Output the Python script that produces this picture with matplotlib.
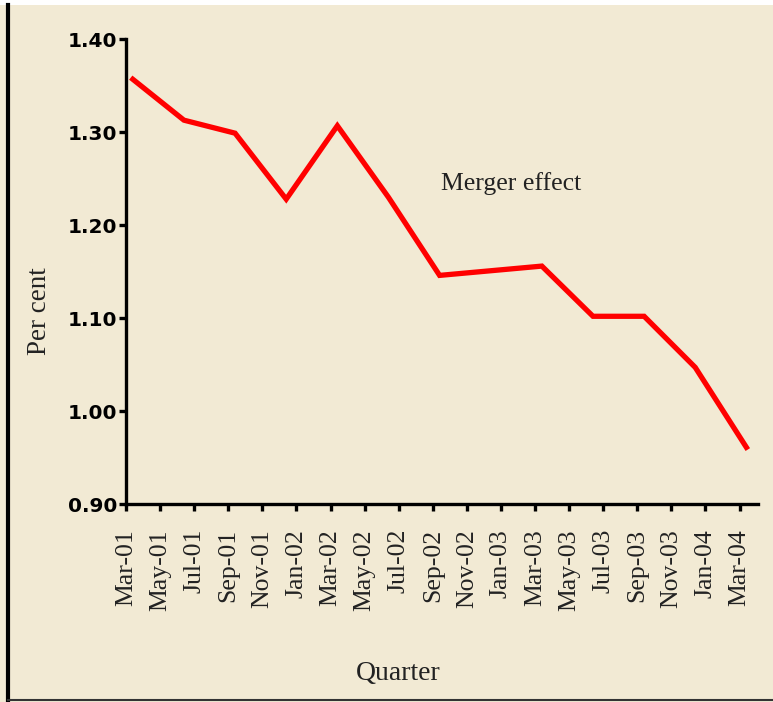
import numpy as np
import matplotlib.pyplot as plt
from matplotlib.lines import Line2D
from matplotlib.patches import Rectangle

# =========================
# data
# =========================
tick_labels = ["Mar-01", "May-01", "Jul-01", "Sep-01", "Nov-01", "Jan-02", "Mar-02",
               "May-02", "Jul-02", "Sep-02", "Nov-02", "Jan-03", "Mar-03", "May-03",
               "Jul-03", "Sep-03", "Nov-03", "Jan-04", "Mar-04"]
# months since Mar-01 (ticks every 2 months)
tick_months = np.arange(0, 37, 2)

# quarterly observations (months since Mar-01)
quarter_months = [0.4, 3.4, 6.4, 9.4, 12.4, 15.4, 18.4, 21.4, 24.4, 27.4, 30.4, 33.4, 36.4]
values = [1.357, 1.313, 1.299, 1.228, 1.307, 1.230, 1.146, 1.151, 1.156, 1.102, 1.102, 1.047, 0.961]

BG = "#F2EAD4"
RED = "#FF0000"

fig = plt.figure(figsize=(7.73, 7.02), dpi=100, facecolor=BG)
ax = fig.add_axes([0.163, 0.282, 0.818, 0.662])
ax.set_facecolor(BG)

ax.plot(quarter_months, values, color=RED, linewidth=3.8, solid_joinstyle="miter")

ax.set_xlim(0, 37.1)
ax.set_ylim(0.90, 1.40)

ax.set_yticks([0.90, 1.00, 1.10, 1.20, 1.30, 1.40])
ax.set_yticklabels(["0.90", "1.00", "1.10", "1.20", "1.30", "1.40"],
                   fontsize=14.5, fontweight="bold", family="DejaVu Sans")
ax.set_xticks(tick_months)
ax.set_xticklabels(tick_labels, rotation=90, fontsize=18.5, family="Liberation Serif",
                   color="#222222")

for s in ["top", "right"]:
    ax.spines[s].set_visible(False)
for s in ["left", "bottom"]:
    ax.spines[s].set_linewidth(2.4)
ax.tick_params(axis="both", direction="out", length=5, width=2.4)
ax.tick_params(axis="y", pad=1)
ax.tick_params(axis="x", pad=13)

ax.text(22.6, 1.245, "Merger effect", fontsize=18.5, family="Liberation Serif",
        color="#222222", ha="center", va="center")

fig.text(40 / 773, 1 - 311 / 702, "Per cent", rotation=90, fontsize=19.5,
         family="Liberation Serif", color="#222222", ha="center", va="center")
fig.text(398 / 773, 1 - 673 / 702, "Quarter", fontsize=20,
         family="Liberation Serif", color="#222222", ha="center", va="center")

# page frame: white strip on top, black rule on left, dark rule at bottom
fig.add_artist(Rectangle((0, 1 - 5 / 702), 1, 5 / 702, transform=fig.transFigure,
                         facecolor="white", edgecolor="none"))
fig.add_artist(Line2D([8 / 773, 8 / 773], [1 - 700 / 702, 1 - 5 / 702],
                      transform=fig.transFigure, color="black", linewidth=3))
fig.add_artist(Line2D([8 / 773, 1], [1 - 700 / 702, 1 - 700 / 702],
                      transform=fig.transFigure, color="#333333", linewidth=1.5))

fig.savefig("out.png", dpi=100, facecolor=BG)
